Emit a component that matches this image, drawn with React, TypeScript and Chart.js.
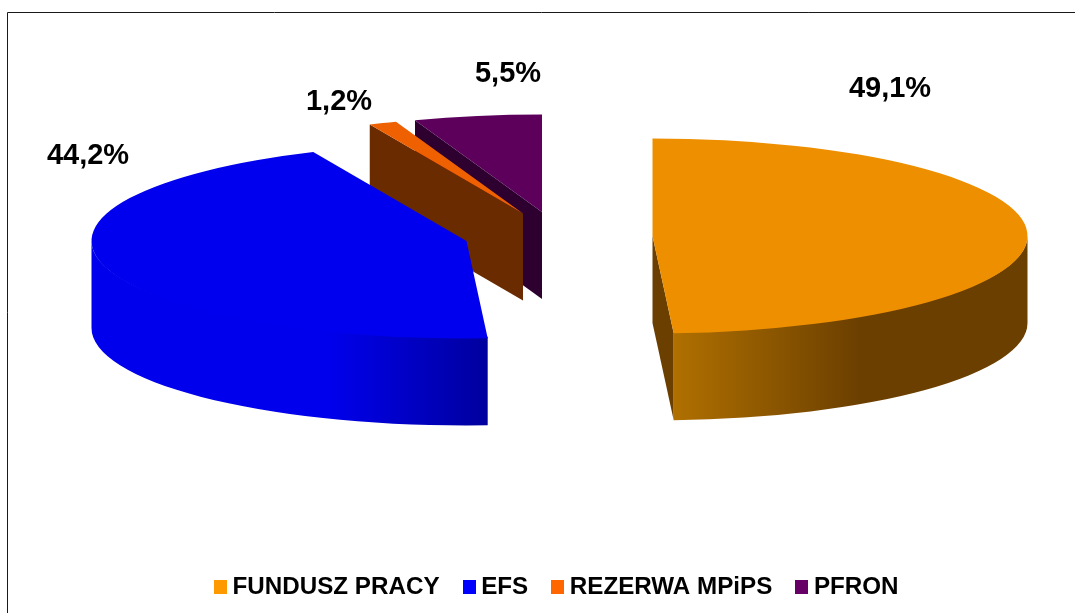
import React, { useEffect, useRef } from "react";
import { Chart, registerables } from "chart.js";

Chart.register(...registerables);

const categories = ["FUNDUSZ PRACY", "EFS", "REZERWA MPiPS", "PFRON"];
const shares = [49.1, 44.2, 1.2, 5.5];
const topColors = ["#ee8f00", "#0000ee", "#ee6000", "#5c005c"];
const legendColors = ["#ff9900", "#0000ff", "#ff6600", "#660066"];

const FONT = "'Liberation Sans', Arial, sans-serif";
const RADIUS = 375;
const TILT = 0.26;
const DEPTH = 87;
// Where each exploded slice sits on the tilted plane, and its shaded faces
const layout = [
  { cx: 652.5, cy: 236, cut: "#6b3f00", wall: [[674, "#b07000"], [860, "#6b3f00"]], label: [890, 89] },
  { cx: 466.5, cy: 241, cut: "#00009e", wall: [[330, "#0000ec"], [488, "#00009e"]], label: [88, 156] },
  { cx: 523, cy: 213.5, cut: "#6b2b00", wall: [[0, "#6b2b00"], [1075, "#6b2b00"]], label: [339, 102] },
  { cx: 542, cy: 212, cut: "#2d0030", wall: [[0, "#2d0030"], [1075, "#2d0030"]], label: [508, 74] },
];
const drawOrder = [3, 2, 1, 0];

function squareStyle(color: string) {
  const c = document.createElement("canvas");
  c.width = 13;
  c.height = 14;
  const g = c.getContext("2d")!;
  g.fillStyle = color;
  g.fillRect(0, 0, 13, 14);
  return c;
}

const pie3d = {
  id: "pie3d",
  beforeDraw(chart: any) {
    const { ctx } = chart;
    ctx.save();
    ctx.strokeStyle = "#1a1a1a";
    ctx.lineWidth = 1;
    ctx.beginPath();
    ctx.moveTo(7.5, 613);
    ctx.lineTo(7.5, 12.5);
    ctx.lineTo(1075, 12.5);
    ctx.stroke();
    ctx.restore();
  },
  beforeDatasetsDraw(chart: any) {
    const { ctx } = chart;
    const arcs = chart.getDatasetMeta(0).data;
    for (const i of drawOrder) {
      const arc = arcs[i];
      const p = layout[i];
      const R = arc.outerRadius;
      const ry = R * TILT;
      const a = arc.startAngle;
      const b = arc.endAngle;
      const face = (angle: number) => {
        const ex = p.cx + Math.cos(angle) * R;
        const ey = p.cy + Math.sin(angle) * ry;
        ctx.fillStyle = p.cut;
        ctx.beginPath();
        ctx.moveTo(p.cx, p.cy);
        ctx.lineTo(ex, ey);
        ctx.lineTo(ex, ey + DEPTH);
        ctx.lineTo(p.cx, p.cy + DEPTH);
        ctx.closePath();
        ctx.fill();
      };
      ctx.save();
      if (Math.cos(a) < -1e-6) face(a);
      if (Math.cos(b) > 1e-6) face(b);
      // outer wall: only the part of the rim that faces the viewer;
      // its upper edge runs just under the top face so no light seam shows
      const from = Math.max(a, 0);
      const to = Math.min(b, Math.PI);
      if (to > from) {
        const g = ctx.createLinearGradient(p.wall[0][0], 0, p.wall[1][0], 0);
        g.addColorStop(0, p.wall[0][1]);
        g.addColorStop(1, p.wall[1][1]);
        ctx.fillStyle = g;
        ctx.beginPath();
        ctx.ellipse(p.cx, p.cy, R, ry - 1.5, 0, from, to);
        ctx.ellipse(p.cx, p.cy + DEPTH, R, ry, 0, to, from, true);
        ctx.closePath();
        ctx.fill();
      }
      ctx.translate(p.cx, p.cy);
      ctx.scale(1, TILT);
      ctx.translate(-arc.x, -arc.y);
      arc.draw(ctx);
      ctx.restore();
    }
    ctx.save();
    ctx.fillStyle = "#000";
    ctx.font = `bold 29px ${FONT}`;
    ctx.textAlign = "center";
    ctx.textBaseline = "middle";
    shares.forEach((v, i) => {
      ctx.fillText(`${v.toFixed(1).replace(".", ",")}%`, layout[i].label[0], layout[i].label[1]);
    });
    ctx.restore();
    return false;
  },
};

export default function App() {
  const ref = useRef<HTMLCanvasElement>(null);
  useEffect(() => {
    const chart = new Chart(ref.current!, {
      type: "pie",
      plugins: [pie3d],
      data: {
        labels: categories,
        datasets: [
          {
            data: shares,
            backgroundColor: topColors,
            borderWidth: 0,
            radius: RADIUS,
          } as any,
        ],
      },
      options: {
        responsive: false,
        animation: false,
        layout: { padding: { bottom: 4, left: 44 } },
        plugins: {
          tooltip: { enabled: false },
          legend: {
            position: "bottom",
            labels: {
              usePointStyle: true,
              boxWidth: 0.01,
              boxHeight: 14,
              padding: 29.5,
              color: "#000",
              font: { family: FONT, size: 24.2, weight: "bold" },
              generateLabels: () =>
                categories.map((text, index) => ({
                  text,
                  index,
                  fillStyle: legendColors[index],
                  strokeStyle: legendColors[index],
                  lineWidth: 0,
                  pointStyle: squareStyle(legendColors[index]),
                  fontColor: "#000",
                  hidden: false,
                })),
            },
          },
        },
      },
    } as any);
    return () => chart.destroy();
  }, []);
  return (
    <canvas
      ref={ref}
      width={1075}
      height={613}
      style={{ position: "absolute", left: 0, top: 0, display: "block" }}
    />
  );
}
